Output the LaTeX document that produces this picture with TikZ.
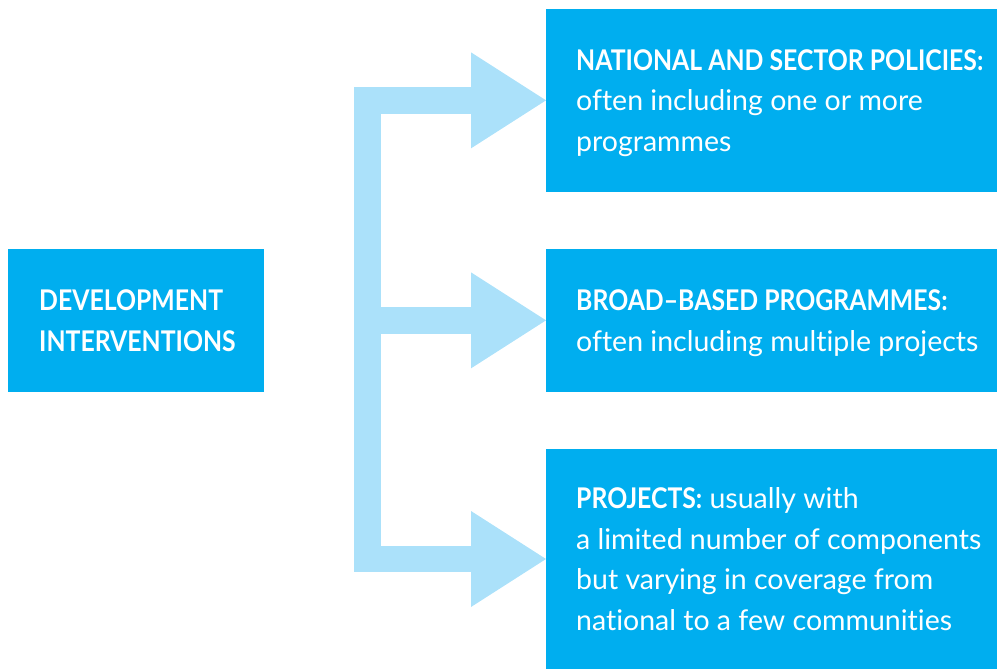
\documentclass[tikz,border=0pt]{standalone}
\usepackage{fontspec}
\setmainfont{Lato}[Ligatures={NoCommon, NoDiscretionary}, BoldFeatures={FakeStretch=0.87}]
\usetikzlibrary{positioning, arrows.meta}

\definecolor{boxblue}{RGB}{0,174,239}
\definecolor{arrowblue}{RGB}{171,225,250}

\begin{document}
\begin{tikzpicture}[
  x=1bp, y=-1bp,
  boxstyle/.style={
        fill=boxblue,
        inner sep=0,
        outer sep=0,
        minimum width=451bp,
        anchor=north west
  },
  textstyle/.style={
        text=white,
        align=left,
        inner sep=0,
        text depth=0pt,
        font=\fontsize{28.5bp}{40.5bp}\selectfont
  },
  trunkline/.style={
        draw=arrowblue,
        line width=26.7bp,
        line cap=rect
  },
  branch/.style={
        draw=arrowblue,
        line width=26.7bp,
        -{Triangle[length=75bp, width=96bp, line width=0pt, fill=arrowblue]}
  }
]

    \useasboundingbox (0,0) rectangle (997,669);

    \node[boxstyle, minimum width=256bp, minimum height=143bp] (dev) at (8,249) {};
    \node[textstyle, right=31bp of dev.west] (dev_text) {\textbf{DEVELOPMENT}\\\textbf{INTERVENTIONS}};

    \node[boxstyle, minimum height=182.7bp] (nsp) at (546,9) {};
    \node[textstyle, right=30bp of nsp.west] (nsp_text) {\textbf{NATIONAL AND SECTOR POLICIES:}\\often including one or more\\programmes};

    \node[boxstyle, minimum height=142.7bp] (bbp) at (546,249) {};
    \node[textstyle, right=30bp of bbp.west] (bbp_text) {\textbf{BROAD--BASED PROGRAMMES:}\\often including multiple projects};

    \node[boxstyle, minimum height=220bp] (prj) at (546,449) {};
    \node[textstyle, right=30bp of prj.west] (prj_text) {\textbf{PROJECTS:} usually with\\a limited number of components\\but varying in coverage from\\national to a few communities};

    \coordinate (trunk) at (367.5,0);

    \draw[trunkline] (trunk |- nsp.west) -- (trunk |- prj.west);
    \draw[branch] (trunk |- nsp.west) -- (nsp.west);
    \draw[branch] (trunk |- bbp.west) -- (bbp.west);
    \draw[branch] (trunk |- prj.west) -- (prj.west);
\end{tikzpicture}
\end{document}
